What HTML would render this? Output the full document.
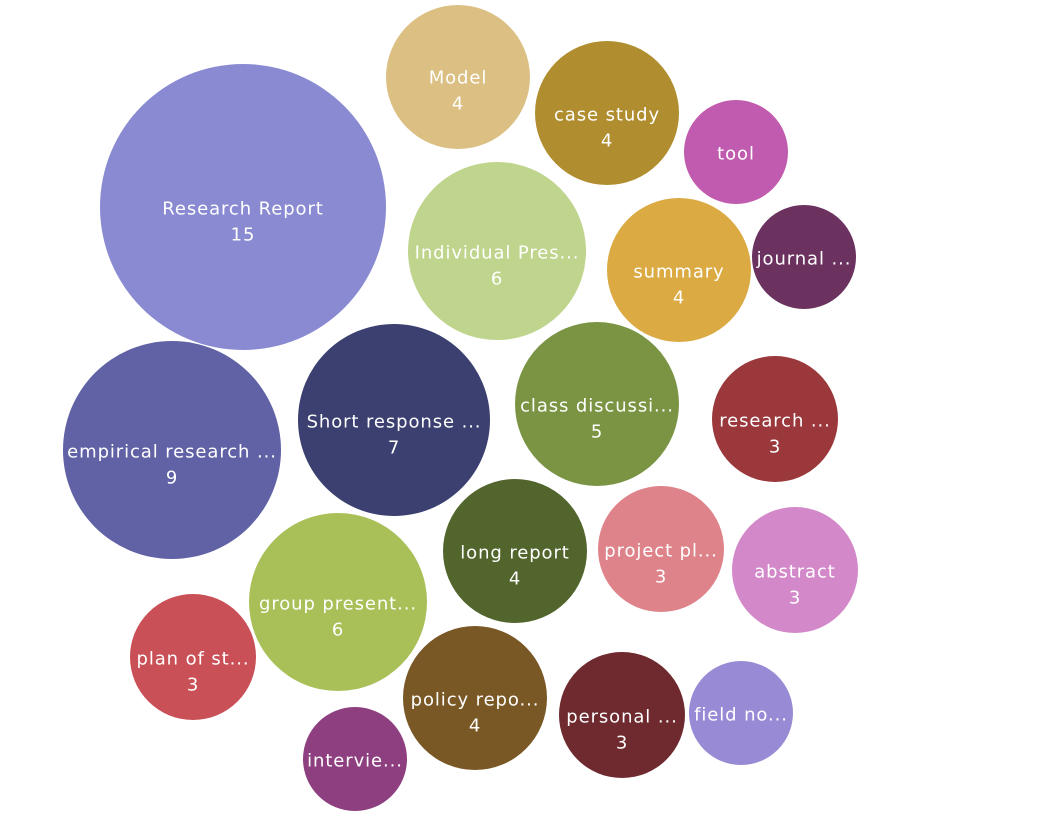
<!DOCTYPE html>
<html><head><meta charset="utf-8"><style>
html,body{margin:0;padding:0;background:#fff;}
svg text{font-family:"DejaVu Sans","Liberation Sans",sans-serif;font-size:18px;letter-spacing:0.9px;fill:#fff;text-anchor:middle;dominant-baseline:central;}
</style></head><body>
<svg width="1040" height="825" viewBox="0 0 1040 825">
<g transform="translate(0,1)">
<circle cx="243" cy="206" r="143" fill="#8a8ad3"/><text x="243" y="208">Research Report</text><text x="243" y="234">15</text>
<circle cx="458" cy="76" r="72" fill="#dcbf83"/><text x="458" y="77">Model</text><text x="458" y="103">4</text>
<circle cx="607" cy="112" r="72" fill="#b08d2e"/><text x="607" y="114">case study</text><text x="607" y="140">4</text>
<circle cx="736" cy="151" r="52" fill="#c05bb0"/><text x="736" y="153">tool</text>
<circle cx="497" cy="250" r="89" fill="#bfd48c"/><text x="497" y="252">Individual Pres...</text><text x="497" y="278">6</text>
<circle cx="679" cy="269" r="72" fill="#dbaa43"/><text x="679" y="271">summary</text><text x="679" y="297">4</text>
<circle cx="804" cy="256" r="52" fill="#6b325f"/><text x="804" y="258">journal ...</text>
<circle cx="172" cy="449" r="109" fill="#6162a5"/><text x="172" y="451">empirical research ...</text><text x="172" y="477">9</text>
<circle cx="394" cy="419" r="96" fill="#3b4070"/><text x="394" y="421">Short response ...</text><text x="394" y="447">7</text>
<circle cx="597" cy="403" r="82" fill="#7a9443"/><text x="597" y="405">class discussi...</text><text x="597" y="431">5</text>
<circle cx="775" cy="418" r="63" fill="#9a383c"/><text x="775" y="420">research ...</text><text x="775" y="446">3</text>
<circle cx="515" cy="550" r="72" fill="#52652c"/><text x="515" y="552">long report</text><text x="515" y="578">4</text>
<circle cx="661" cy="548" r="63" fill="#de8389"/><text x="661" y="550">project pl...</text><text x="661" y="576">3</text>
<circle cx="795" cy="569" r="63" fill="#d389c9"/><text x="795" y="571">abstract</text><text x="795" y="597">3</text>
<circle cx="338" cy="601" r="89" fill="#a8c057"/><text x="338" y="603">group present...</text><text x="338" y="629">6</text>
<circle cx="193" cy="656" r="63" fill="#c95056"/><text x="193" y="658">plan of st...</text><text x="193" y="684">3</text>
<circle cx="475" cy="697" r="72" fill="#7a5826"/><text x="475" y="699">policy repo...</text><text x="475" y="725">4</text>
<circle cx="622" cy="714" r="63" fill="#6e2a2e"/><text x="622" y="716">personal ...</text><text x="622" y="742">3</text>
<circle cx="741" cy="712" r="52" fill="#988ad4"/><text x="741" y="714">field no...</text>
<circle cx="355" cy="758" r="52" fill="#8e3f80"/><text x="355" y="760">intervie...</text>
</g>
</svg>
</body></html>
